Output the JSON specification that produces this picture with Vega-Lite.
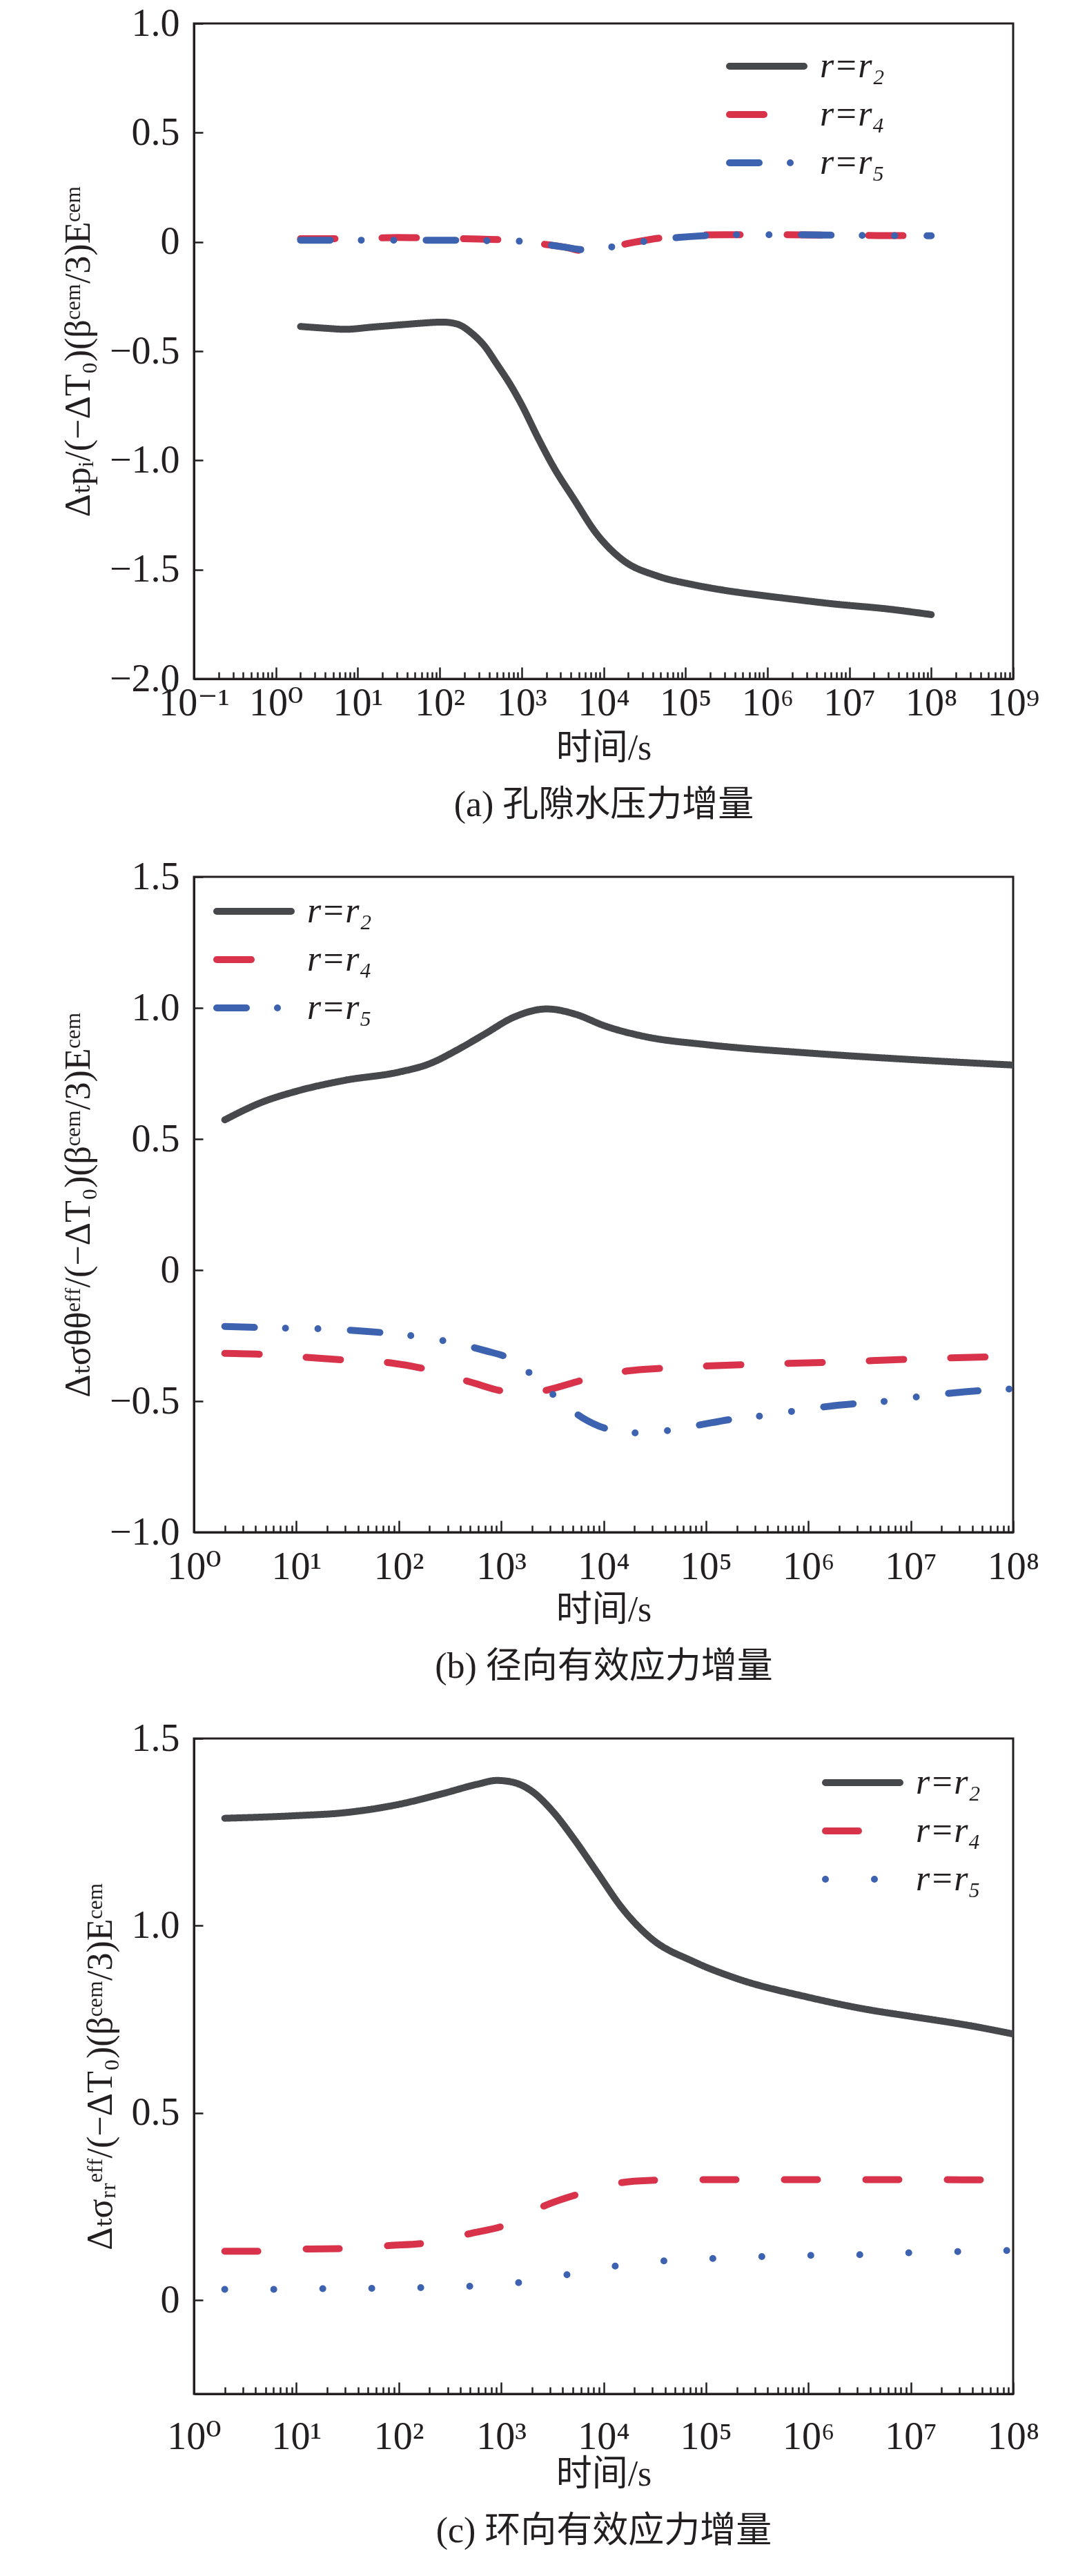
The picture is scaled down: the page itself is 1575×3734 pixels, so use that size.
{
  "$schema": "https://vega.github.io/schema/vega-lite/v6.json",
  "padding": {"left": 85, "top": 4, "right": 10, "bottom": 0},
  "spacing": 47,
  "background": "white",
  "resolve": {"scale": {"color": "independent", "strokeDash": "independent"}},
  "datasets": {
    "a": [
      {"t": 2, "v": -0.387, "r": "r2"}, {"t": 4, "v": -0.395, "r": "r2"}, {"t": 7, "v": -0.4, "r": "r2"},
      {"t": 15, "v": -0.39, "r": "r2"}, {"t": 32, "v": -0.38, "r": "r2"}, {"t": 60, "v": -0.372, "r": "r2"},
      {"t": 107, "v": -0.367, "r": "r2"}, {"t": 160, "v": -0.375, "r": "r2"}, {"t": 250, "v": -0.42, "r": "r2"},
      {"t": 350, "v": -0.475, "r": "r2"}, {"t": 500, "v": -0.56, "r": "r2"}, {"t": 760, "v": -0.665, "r": "r2"},
      {"t": 1000, "v": -0.745, "r": "r2"}, {"t": 1600, "v": -0.9, "r": "r2"}, {"t": 2450, "v": -1.03, "r": "r2"},
      {"t": 4400, "v": -1.18, "r": "r2"}, {"t": 8000, "v": -1.33, "r": "r2"}, {"t": 17000, "v": -1.455, "r": "r2"},
      {"t": 46000, "v": -1.53, "r": "r2"}, {"t": 120000, "v": -1.568, "r": "r2"}, {"t": 300000, "v": -1.595, "r": "r2"},
      {"t": 850000, "v": -1.618, "r": "r2"}, {"t": 2000000, "v": -1.635, "r": "r2"}, {"t": 6000000, "v": -1.656, "r": "r2"},
      {"t": 29000000, "v": -1.68, "r": "r2"}, {"t": 100000000, "v": -1.706, "r": "r2"},
      {"t": 2, "v": 0.015, "r": "r4"}, {"t": 4, "v": 0.015, "r": "r4"}, {"t": 10, "v": 0.015, "r": "r4"},
      {"t": 30, "v": 0.02, "r": "r4"}, {"t": 100, "v": 0.017, "r": "r4"}, {"t": 300, "v": 0.013, "r": "r4"},
      {"t": 1000, "v": 0.005, "r": "r4"}, {"t": 2000, "v": -0.012, "r": "r4"}, {"t": 3500, "v": -0.025, "r": "r4"},
      {"t": 5500, "v": -0.04, "r": "r4"}, {"t": 8000, "v": -0.03, "r": "r4"}, {"t": 14000, "v": -0.018, "r": "r4"},
      {"t": 25000, "v": 0.0, "r": "r4"}, {"t": 50000, "v": 0.018, "r": "r4"}, {"t": 100000, "v": 0.028, "r": "r4"},
      {"t": 300000, "v": 0.033, "r": "r4"}, {"t": 1000000, "v": 0.033, "r": "r4"}, {"t": 10000000, "v": 0.03, "r": "r4"},
      {"t": 100000000, "v": 0.028, "r": "r4"},
      {"t": 2, "v": 0.008, "r": "r5"}, {"t": 5, "v": 0.008, "r": "r5"}, {"t": 10, "v": 0.008, "r": "r5"},
      {"t": 50, "v": 0.008, "r": "r5"}, {"t": 100, "v": 0.008, "r": "r5"}, {"t": 300, "v": 0.006, "r": "r5"},
      {"t": 1000, "v": 0.003, "r": "r5"}, {"t": 2000, "v": -0.012, "r": "r5"}, {"t": 3500, "v": -0.025, "r": "r5"},
      {"t": 5500, "v": -0.035, "r": "r5"}, {"t": 10000, "v": -0.028, "r": "r5"}, {"t": 20000, "v": -0.01, "r": "r5"},
      {"t": 40000, "v": 0.008, "r": "r5"}, {"t": 80000, "v": 0.02, "r": "r5"}, {"t": 200000, "v": 0.03, "r": "r5"},
      {"t": 500000, "v": 0.033, "r": "r5"}, {"t": 2000000, "v": 0.033, "r": "r5"}, {"t": 10000000, "v": 0.03, "r": "r5"},
      {"t": 100000000, "v": 0.028, "r": "r5"}
    ],
    "b": [
      {"t": 2, "v": 0.573, "r": "r2"}, {"t": 4.6, "v": 0.64, "r": "r2"}, {"t": 10, "v": 0.682, "r": "r2"},
      {"t": 30, "v": 0.724, "r": "r2"}, {"t": 100, "v": 0.755, "r": "r2"}, {"t": 200, "v": 0.787, "r": "r2"},
      {"t": 370, "v": 0.839, "r": "r2"}, {"t": 690, "v": 0.9, "r": "r2"}, {"t": 1320, "v": 0.964, "r": "r2"},
      {"t": 2800, "v": 0.996, "r": "r2"}, {"t": 5400, "v": 0.975, "r": "r2"}, {"t": 10000, "v": 0.933, "r": "r2"},
      {"t": 25000, "v": 0.891, "r": "r2"}, {"t": 100000, "v": 0.86, "r": "r2"}, {"t": 1000000, "v": 0.828, "r": "r2"},
      {"t": 10000000, "v": 0.803, "r": "r2"}, {"t": 100000000, "v": 0.782, "r": "r2"},
      {"t": 2, "v": -0.318, "r": "r4"}, {"t": 5, "v": -0.322, "r": "r4"}, {"t": 12.6, "v": -0.333, "r": "r4"},
      {"t": 30, "v": -0.343, "r": "r4"}, {"t": 83, "v": -0.354, "r": "r4"}, {"t": 200, "v": -0.381, "r": "r4"},
      {"t": 500, "v": -0.427, "r": "r4"}, {"t": 1170, "v": -0.465, "r": "r4"}, {"t": 2000, "v": -0.47, "r": "r4"},
      {"t": 2800, "v": -0.458, "r": "r4"}, {"t": 6800, "v": -0.416, "r": "r4"}, {"t": 17000, "v": -0.385, "r": "r4"},
      {"t": 40000, "v": -0.374, "r": "r4"}, {"t": 270000, "v": -0.36, "r": "r4"}, {"t": 1800000, "v": -0.351, "r": "r4"},
      {"t": 11500000, "v": -0.339, "r": "r4"}, {"t": 100000000, "v": -0.329, "r": "r4"},
      {"t": 2, "v": -0.215, "r": "r5"}, {"t": 8.5, "v": -0.222, "r": "r5"}, {"t": 17, "v": -0.224, "r": "r5"},
      {"t": 66, "v": -0.238, "r": "r5"}, {"t": 138, "v": -0.251, "r": "r5"}, {"t": 295, "v": -0.272, "r": "r5"},
      {"t": 690, "v": -0.307, "r": "r5"}, {"t": 1200, "v": -0.337, "r": "r5"}, {"t": 2000, "v": -0.4, "r": "r5"},
      {"t": 3300, "v": -0.479, "r": "r5"}, {"t": 6200, "v": -0.563, "r": "r5"}, {"t": 10700, "v": -0.605, "r": "r5"},
      {"t": 21000, "v": -0.621, "r": "r5"}, {"t": 45000, "v": -0.611, "r": "r5"}, {"t": 89000, "v": -0.59, "r": "r5"},
      {"t": 180000, "v": -0.569, "r": "r5"}, {"t": 350000, "v": -0.556, "r": "r5"}, {"t": 720000, "v": -0.538, "r": "r5"},
      {"t": 2000000, "v": -0.515, "r": "r5"}, {"t": 5800000, "v": -0.5, "r": "r5"}, {"t": 12000000, "v": -0.483, "r": "r5"},
      {"t": 35000000, "v": -0.464, "r": "r5"}, {"t": 100000000, "v": -0.453, "r": "r5"}
    ],
    "c": [
      {"t": 2, "v": 1.287, "r": "r2"}, {"t": 10, "v": 1.294, "r": "r2"}, {"t": 30, "v": 1.302, "r": "r2"},
      {"t": 100, "v": 1.324, "r": "r2"}, {"t": 270, "v": 1.353, "r": "r2"}, {"t": 590, "v": 1.378, "r": "r2"},
      {"t": 910, "v": 1.388, "r": "r2"}, {"t": 1350, "v": 1.382, "r": "r2"}, {"t": 2000, "v": 1.359, "r": "r2"},
      {"t": 3200, "v": 1.305, "r": "r2"}, {"t": 5200, "v": 1.23, "r": "r2"}, {"t": 8300, "v": 1.15, "r": "r2"},
      {"t": 15800, "v": 1.041, "r": "r2"}, {"t": 29500, "v": 0.965, "r": "r2"}, {"t": 76000, "v": 0.904, "r": "r2"},
      {"t": 195000, "v": 0.86, "r": "r2"}, {"t": 1000000, "v": 0.809, "r": "r2"}, {"t": 3800000, "v": 0.776, "r": "r2"},
      {"t": 10000000, "v": 0.758, "r": "r2"}, {"t": 40000000, "v": 0.732, "r": "r2"}, {"t": 100000000, "v": 0.711, "r": "r2"},
      {"t": 2, "v": 0.131, "r": "r4"}, {"t": 4.8, "v": 0.131, "r": "r4"}, {"t": 12.6, "v": 0.137, "r": "r4"},
      {"t": 30, "v": 0.138, "r": "r4"}, {"t": 80, "v": 0.146, "r": "r4"}, {"t": 186, "v": 0.153, "r": "r4"},
      {"t": 500, "v": 0.178, "r": "r4"}, {"t": 1120, "v": 0.201, "r": "r4"}, {"t": 2800, "v": 0.255, "r": "r4"},
      {"t": 6300, "v": 0.287, "r": "r4"}, {"t": 17000, "v": 0.316, "r": "r4"}, {"t": 40000, "v": 0.321, "r": "r4"},
      {"t": 160000, "v": 0.322, "r": "r4"}, {"t": 1000000, "v": 0.322, "r": "r4"}, {"t": 10000000, "v": 0.322, "r": "r4"},
      {"t": 100000000, "v": 0.321, "r": "r4"},
      {"t": 2, "v": 0.029, "r": "r5"}, {"t": 6.6, "v": 0.029, "r": "r5"}, {"t": 20, "v": 0.031, "r": "r5"},
      {"t": 60, "v": 0.032, "r": "r5"}, {"t": 180, "v": 0.034, "r": "r5"}, {"t": 535, "v": 0.038, "r": "r5"},
      {"t": 1600, "v": 0.048, "r": "r5"}, {"t": 4800, "v": 0.07, "r": "r5"}, {"t": 14500, "v": 0.093, "r": "r5"},
      {"t": 43500, "v": 0.106, "r": "r5"}, {"t": 130000, "v": 0.112, "r": "r5"}, {"t": 390000, "v": 0.117, "r": "r5"},
      {"t": 1170000, "v": 0.12, "r": "r5"}, {"t": 3500000, "v": 0.122, "r": "r5"}, {"t": 10500000, "v": 0.127, "r": "r5"},
      {"t": 31000000, "v": 0.13, "r": "r5"}, {"t": 100000000, "v": 0.133, "r": "r5"}
    ]
  },
  "vconcat": [
    {
      "width": 1187,
      "height": 950,
      "data": {"name": "a"},
      "mark": {"type": "line", "strokeWidth": 10, "strokeCap": "round", "interpolate": "monotone", "clip": true},
      "encoding": {
        "x": {
          "field": "t", "type": "quantitative",
          "scale": {"type": "log", "domain": [0.1, 1000000000], "nice": false},
          "axis": {
            "title": ["时间/s", "(a) 孔隙水压力增量"],
            "labelPadding": 25,
            "titlePadding": 5,
            "values": [0.1,0.2,0.3,0.4,0.5,0.6,0.7,0.8,0.9,1,2,3,4,5,6,7,8,9,10,20,30,40,50,60,70,80,90,100,200,300,400,500,600,700,800,900,1000,2000,3000,4000,5000,6000,7000,8000,9000,1e4,2e4,3e4,4e4,5e4,6e4,7e4,8e4,9e4,1e5,2e5,3e5,4e5,5e5,6e5,7e5,8e5,9e5,1e6,2e6,3e6,4e6,5e6,6e6,7e6,8e6,9e6,1e7,2e7,3e7,4e7,5e7,6e7,7e7,8e7,9e7,1e8,2e8,3e8,4e8,5e8,6e8,7e8,8e8,9e8,1e9]
          }
        },
        "y": {
          "field": "v", "type": "quantitative",
          "scale": {"domain": [-2, 1], "nice": false, "zero": false},
          "axis": {
            "title": "Δₜpᵢ/(−ΔT₀)(βᶜᵉᵐ/3)Eᶜᵉᵐ",
            "values": [-2, -1.5, -1, -0.5, 0, 0.5, 1]
          }
        },
        "color": {
          "field": "r", "type": "nominal",
          "scale": {"domain": ["r2", "r4", "r5"], "range": ["#47484c", "#d8334a", "#3d63b0"]},
          "legend": {"legendX": 771, "legendY": 30, "labelExpr": "'r=r' + (datum.value == 'r2' ? '₂' : datum.value == 'r4' ? '₄' : '₅')", "encode": {"symbols": {"update": {"strokeCap": {"value": "round"}}}}}
        },
        "strokeDash": {
          "field": "r", "type": "nominal",
          "scale": {"domain": ["r2", "r4", "r5"], "range": [[1, 0], [50, 68], [43, 45, 0, 47, 0, 47]]},
          "legend": {"legendX": 771, "legendY": 30, "labelExpr": "'r=r' + (datum.value == 'r2' ? '₂' : datum.value == 'r4' ? '₄' : '₅')", "encode": {"symbols": {"update": {"strokeCap": {"value": "round"}}}}}
        }
      }
    },
    {
      "width": 1187,
      "height": 950,
      "data": {"name": "b"},
      "mark": {"type": "line", "strokeWidth": 10, "strokeCap": "round", "interpolate": "monotone", "clip": true},
      "encoding": {
        "x": {
          "field": "t", "type": "quantitative",
          "scale": {"type": "log", "domain": [1, 100000000], "nice": false},
          "axis": {
            "title": ["时间/s", "(b) 径向有效应力增量"],
            "labelPadding": 40,
            "titlePadding": 2,
            "values": [1,2,3,4,5,6,7,8,9,10,20,30,40,50,60,70,80,90,100,200,300,400,500,600,700,800,900,1000,2000,3000,4000,5000,6000,7000,8000,9000,1e4,2e4,3e4,4e4,5e4,6e4,7e4,8e4,9e4,1e5,2e5,3e5,4e5,5e5,6e5,7e5,8e5,9e5,1e6,2e6,3e6,4e6,5e6,6e6,7e6,8e6,9e6,1e7,2e7,3e7,4e7,5e7,6e7,7e7,8e7,9e7,1e8]
          }
        },
        "y": {
          "field": "v", "type": "quantitative",
          "scale": {"domain": [-1, 1.5], "nice": false, "zero": false},
          "axis": {
            "title": "Δₜσθθᵉᶠᶠ/(−ΔT₀)(βᶜᵉᵐ/3)Eᶜᵉᵐ",
            "values": [-1, -0.5, 0, 0.5, 1, 1.5]
          }
        },
        "color": {
          "field": "r", "type": "nominal",
          "scale": {"domain": ["r2", "r4", "r5"], "range": ["#47484c", "#d8334a", "#3d63b0"]},
          "legend": {"legendX": 28, "legendY": 18, "labelExpr": "'r=r' + (datum.value == 'r2' ? '₂' : datum.value == 'r4' ? '₄' : '₅')", "encode": {"symbols": {"update": {"strokeCap": {"value": "round"}}}}}
        },
        "strokeDash": {
          "field": "r", "type": "nominal",
          "scale": {"domain": ["r2", "r4", "r5"], "range": [[1, 0], [50, 68], [43, 45, 0, 47, 0, 47]]},
          "legend": {"legendX": 28, "legendY": 18, "labelExpr": "'r=r' + (datum.value == 'r2' ? '₂' : datum.value == 'r4' ? '₄' : '₅')", "encode": {"symbols": {"update": {"strokeCap": {"value": "round"}}}}}
        }
      }
    },
    {
      "width": 1187,
      "height": 950,
      "data": {"name": "c"},
      "mark": {"type": "line", "strokeWidth": 10, "strokeCap": "round", "interpolate": "monotone", "clip": true},
      "encoding": {
        "x": {
          "field": "t", "type": "quantitative",
          "scale": {"type": "log", "domain": [1, 100000000], "nice": false},
          "axis": {
            "title": ["时间/s", "(c) 环向有效应力增量"],
            "labelPadding": 52,
            "titlePadding": -6,
            "values": [1,2,3,4,5,6,7,8,9,10,20,30,40,50,60,70,80,90,100,200,300,400,500,600,700,800,900,1000,2000,3000,4000,5000,6000,7000,8000,9000,1e4,2e4,3e4,4e4,5e4,6e4,7e4,8e4,9e4,1e5,2e5,3e5,4e5,5e5,6e5,7e5,8e5,9e5,1e6,2e6,3e6,4e6,5e6,6e6,7e6,8e6,9e6,1e7,2e7,3e7,4e7,5e7,6e7,7e7,8e7,9e7,1e8]
          }
        },
        "y": {
          "field": "v", "type": "quantitative",
          "scale": {"domain": [-0.25, 1.5], "nice": false, "zero": false},
          "axis": {
            "title": "Δₜσᵣᵣᵉᶠᶠ/(−ΔT₀)(βᶜᵉᵐ/3)Eᶜᵉᵐ",
            "values": [0, 0.5, 1, 1.5]
          }
        },
        "color": {
          "field": "r", "type": "nominal",
          "scale": {"domain": ["r2", "r4", "r5"], "range": ["#47484c", "#d8334a", "#3d63b0"]},
          "legend": {"legendX": 910, "legendY": 32, "labelExpr": "'r=r' + (datum.value == 'r2' ? '₂' : datum.value == 'r4' ? '₄' : '₅')", "encode": {"symbols": {"update": {"strokeCap": {"value": "round"}}}}}
        },
        "strokeDash": {
          "field": "r", "type": "nominal",
          "scale": {"domain": ["r2", "r4", "r5"], "range": [[1, 0], [48, 70], [0, 71]]},
          "legend": {"legendX": 910, "legendY": 32, "labelExpr": "'r=r' + (datum.value == 'r2' ? '₂' : datum.value == 'r4' ? '₄' : '₅')", "encode": {"symbols": {"update": {"strokeCap": {"value": "round"}}}}}
        }
      }
    }
  ],
  "config": {
    "font": "'Liberation Serif', 'DejaVu Serif', 'Noto Sans CJK SC', serif",
    "view": {"stroke": "#231f20", "strokeWidth": 3},
    "axis": {
      "grid": false,
      "domainColor": "#231f20",
      "domainWidth": 3,
      "tickColor": "#231f20",
      "tickWidth": 2.5,
      "labelFont": "'Liberation Serif', 'DejaVu Serif', serif",
      "labelFontSize": 56,
      "labelColor": "#231f20",
      "labelOverlap": false,
      "labelFlush": false,
      "labelBound": false,
      "titleFont": "'Liberation Serif', 'DejaVu Serif', 'Noto Sans CJK SC', serif",
      "titleFontSize": 52,
      "titleFontWeight": "normal",
      "titleColor": "#231f20"
    },
    "axisX": {
      "tickSize": {"condition": {"test": "abs(log(datum.value)/LN10 - round(log(datum.value)/LN10)) < 0.001", "value": -17}, "value": -10},
      "labelExpr": "abs(log(datum.value)/LN10 - round(log(datum.value)/LN10)) < 0.001 ? '10' + (round(log(datum.value)/LN10) < 0 ? '⁻¹' : substring('⁰¹²³⁴⁵⁶⁷⁸⁹', round(log(datum.value)/LN10), round(log(datum.value)/LN10) + 1)) : ''",
      "titleLineHeight": 82
    },
    "axisY": {
      "tickSize": -13,
      "labelPadding": 34,
      "labelExpr": "datum.value == 0 ? '0' : format(datum.value, '.1f')",
      "titlePadding": 18
    },
    "legend": {
      "orient": "none",
      "title": null,
      "padding": 0,
      "symbolType": "M-1,0H3",
      "symbolSize": 2916,
      "symbolStrokeWidth": 10,
      "labelFont": "'Liberation Serif', 'DejaVu Serif', serif",
      "labelFontSize": 52,
      "labelFontStyle": "italic",
      "labelColor": "#231f20",
      "labelOffset": 72,
      "rowPadding": 12
    }
  }
}
